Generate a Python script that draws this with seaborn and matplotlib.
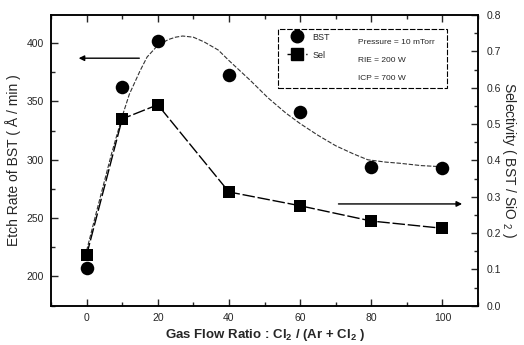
import matplotlib
matplotlib.use('Agg')
import matplotlib.pyplot as plt
import seaborn as sns
import pandas as pd
from matplotlib.patches import Rectangle
from matplotlib.lines import Line2D
from matplotlib.ticker import AutoMinorLocator, FormatStrFormatter

# ---- data ----
gas_ratio = [0, 10, 20, 40, 60, 80, 100]
bst_etch_rate = [207, 362, 402, 373, 341, 294, 293]
selectivity = [0.139, 0.514, 0.553, 0.313, 0.275, 0.233, 0.213]

fit_ratio = [0, 3, 7, 10, 12, 15, 17, 20, 23, 25, 27, 30, 33, 37, 40, 46, 51, 56, 60, 65, 70, 75, 79, 84, 88, 94, 100]
fit_etch_rate = [222, 258, 305, 337, 356, 376, 388, 398, 403, 405, 406, 405, 401, 394, 385, 368, 353, 340, 331, 321, 312, 305, 300, 298, 297, 295, 294]

x_ticks = [0, 20, 40, 60, 80, 100]
left_ticks = [200, 250, 300, 350, 400]
right_ticks = [0.0, 0.1, 0.2, 0.3, 0.4, 0.5, 0.6, 0.7, 0.8]

legend_labels = ['BST', 'Sel']
condition_lines = ['Pressure = 10 mTorr', 'RIE = 200 W', 'ICP = 700 W']

df = pd.DataFrame({'ratio': gas_ratio, 'bst': bst_etch_rate, 'sel': selectivity})
fit_df = pd.DataFrame({'ratio': fit_ratio, 'bst': fit_etch_rate})

# ---- style ----
sns.set_style('ticks')
plt.rcParams['font.family'] = ['Liberation Sans Narrow', 'Liberation Sans', 'DejaVu Sans']
plt.rcParams['mathtext.default'] = 'regular'

fig = plt.figure(figsize=(5.24, 3.45), dpi=100)
ax = fig.add_axes([0.0973, 0.114, 0.815, 0.8425])
ax2 = ax.twinx()

# fitted curve for BST etch rate
sns.lineplot(data=fit_df, x='ratio', y='bst', ax=ax, color='#333333', lw=0.8,
             linestyle=(0, (4, 1.5)), sort=False, legend=False)
sns.scatterplot(data=df, x='ratio', y='bst', ax=ax, color='black', marker='o',
                s=95, edgecolor='black', linewidth=0, legend=False, zorder=5)

# selectivity line
sns.lineplot(data=df, x='ratio', y='sel', ax=ax2, color='black', lw=1.0,
             linestyle=(0, (9, 2)), sort=False, legend=False)
sns.scatterplot(data=df, x='ratio', y='sel', ax=ax2, color='black', marker='s',
                s=85, edgecolor='black', linewidth=0, legend=False, zorder=5)

# axes ranges & ticks
ax.set_xlim(-10, 110)
ax.set_ylim(175, 424)
ax2.set_ylim(0.0, 0.8)
ax.set_xticks(x_ticks)
ax.set_yticks(left_ticks)
ax2.set_yticks(right_ticks)
ax2.yaxis.set_major_formatter(FormatStrFormatter('%.1f'))
ax.xaxis.set_minor_locator(AutoMinorLocator(2))
ax.yaxis.set_minor_locator(AutoMinorLocator(2))
ax2.yaxis.set_minor_locator(AutoMinorLocator(2))

ax.tick_params(axis='both', which='both', direction='in', width=1.0, labelsize=7.5)
ax.tick_params(axis='x', which='both', top=True)
ax.tick_params(axis='y', which='both', right=False)
ax.tick_params(which='major', length=5)
ax.tick_params(which='minor', length=3)
ax.tick_params(axis='y', pad=5)
ax.tick_params(axis='x', pad=5)
ax2.tick_params(axis='y', which='both', direction='in', width=1.0, labelsize=7.5, pad=6)
ax2.tick_params(which='major', length=5)
ax2.tick_params(which='minor', length=3)

for a in (ax, ax2):
    for s in a.spines.values():
        s.set_linewidth(1.1)
        s.set_color('black')

ax.set_xlabel(r'Gas Flow Ratio : Cl$_2$ / (Ar + Cl$_2$ )', fontsize=9.5,
              fontweight='bold', labelpad=3)
ax.set_ylabel('Etch Rate of BST ( Å / min )', fontsize=10, labelpad=4)
ax2.set_ylabel(r'Selectivity ( BST / SiO $_2$ )', fontsize=10, rotation=-90,
               labelpad=12.5)

# arrows pointing to the respective axes
ax.annotate('', xy=(-3.0, 387), xytext=(15.6, 387),
            arrowprops=dict(arrowstyle='-|>', lw=1.0, color='black', mutation_scale=8))
ax2.annotate('', xy=(106.3, 0.28), xytext=(70.0, 0.28),
             arrowprops=dict(arrowstyle='-|>', lw=1.0, color='black', mutation_scale=8))

# legend box
box = Rectangle((0.532, 0.749), 0.395, 0.203, transform=ax.transAxes, fill=False,
                edgecolor='black', lw=0.8, linestyle=(0, (5, 1.5)), zorder=6)
ax2.add_patch(box)
handles = [Line2D([], [], color='black', marker='o', markersize=9, linestyle='none'),
           Line2D([], [], color='black', marker='s', markersize=8.5, lw=1.0,
                  linestyle=(0, (2.5, 2)))]
leg = ax2.legend(handles, legend_labels, loc='upper left', bbox_to_anchor=(0.545, 0.952),
                 frameon=False, fontsize=6.5, handlelength=2.2, handletextpad=0.6,
                 labelspacing=1.0, borderaxespad=0)
for i, t in enumerate(condition_lines):
    ax2.text(0.719, 0.904 - i * 0.061, t, transform=ax.transAxes, fontsize=6,
             va='center', ha='left')

fig.savefig('out.png', dpi=100)
